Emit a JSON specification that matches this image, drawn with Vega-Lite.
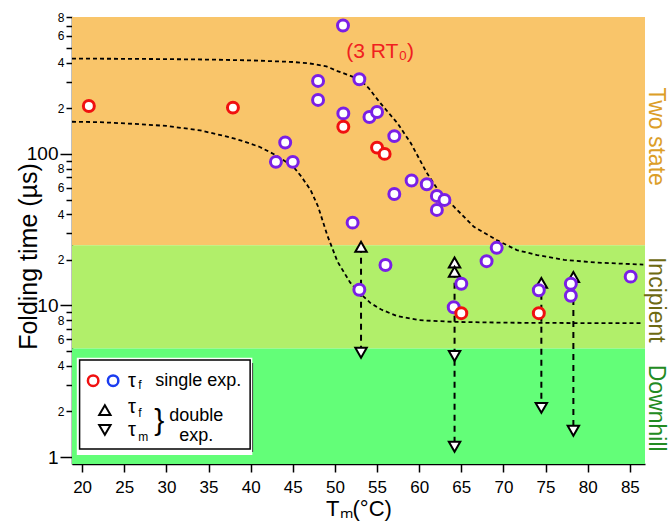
{
  "$schema": "https://vega.github.io/schema/vega-lite/v6.json",
  "width": 573,
  "height": 447,
  "autosize": {"type": "none"},
  "padding": {"left": 72, "top": 17, "right": 25, "bottom": 57},
  "background": "white",
  "config": {
    "view": {"stroke": null},
    "font": "Liberation Sans",
    "axis": {"grid": false, "domainColor": "black", "tickColor": "black", "labelColor": "black", "titleColor": "black", "labelFont": "Liberation Sans", "titleFont": "Liberation Sans", "titleFontWeight": "normal", "domainWidth": 1.5, "tickWidth": 1.5, "labelOverlap": false, "labelFlush": false}
  },
  "datasets": {
    "bands": [
      {"band": "Two state", "T": 18.8, "T2": 86.8, "v": 25, "v2": 800},
      {"band": "Incipient", "T": 18.8, "T2": 86.8, "v": 5.2, "v2": 25},
      {"band": "Downhill", "T": 18.8, "T2": 86.8, "v": 0.9, "v2": 5.2}
    ],
    "curves": [
      {"curve": "a", "T": 18.8, "v": 425}, {"curve": "a", "T": 25, "v": 424}, {"curve": "a", "T": 30, "v": 422}, {"curve": "a", "T": 35, "v": 419}, {"curve": "a", "T": 40, "v": 414}, {"curve": "a", "T": 45, "v": 404}, {"curve": "a", "T": 47, "v": 395}, {"curve": "a", "T": 49, "v": 378}, {"curve": "a", "T": 50.3, "v": 352}, {"curve": "a", "T": 52, "v": 325}, {"curve": "a", "T": 53, "v": 308}, {"curve": "a", "T": 54, "v": 272}, {"curve": "a", "T": 55.4, "v": 216}, {"curve": "a", "T": 57.4, "v": 160}, {"curve": "a", "T": 59, "v": 118}, {"curve": "a", "T": 60.9, "v": 75}, {"curve": "a", "T": 62.5, "v": 55}, {"curve": "a", "T": 64.1, "v": 45}, {"curve": "a", "T": 66.5, "v": 33}, {"curve": "a", "T": 69.2, "v": 27}, {"curve": "a", "T": 71.6, "v": 23.2}, {"curve": "a", "T": 74, "v": 21.5}, {"curve": "a", "T": 77.2, "v": 20}, {"curve": "a", "T": 81, "v": 19.2}, {"curve": "a", "T": 86.6, "v": 18.6},
      {"curve": "b", "T": 18.8, "v": 163}, {"curve": "b", "T": 22, "v": 162}, {"curve": "b", "T": 26, "v": 158}, {"curve": "b", "T": 30, "v": 153}, {"curve": "b", "T": 34, "v": 143}, {"curve": "b", "T": 37.2, "v": 130}, {"curve": "b", "T": 39, "v": 122}, {"curve": "b", "T": 41.1, "v": 111}, {"curve": "b", "T": 43, "v": 98}, {"curve": "b", "T": 45.1, "v": 82}, {"curve": "b", "T": 46, "v": 71}, {"curve": "b", "T": 47.1, "v": 58}, {"curve": "b", "T": 48, "v": 45}, {"curve": "b", "T": 49.1, "v": 29}, {"curve": "b", "T": 50.3, "v": 19.5}, {"curve": "b", "T": 51.8, "v": 14.2}, {"curve": "b", "T": 53, "v": 12}, {"curve": "b", "T": 54.2, "v": 10.4}, {"curve": "b", "T": 55.5, "v": 9.4}, {"curve": "b", "T": 57.4, "v": 8.5}, {"curve": "b", "T": 60, "v": 8.0}, {"curve": "b", "T": 64, "v": 7.8}, {"curve": "b", "T": 70, "v": 7.7}, {"curve": "b", "T": 80, "v": 7.65}, {"curve": "b", "T": 86.6, "v": 7.65}
    ],
    "arrows": [
      {"T": 53.1, "v": 24.4, "v2": 4.88},
      {"T": 64.2, "v": 16.7, "v2": 1.17},
      {"T": 74.5, "v": 14.1, "v2": 2.11},
      {"T": 78.3, "v": 15.4, "v2": 1.49}
    ],
    "triUp": [
      {"T": 53.1, "v": 24.4}, {"T": 64.2, "v": 19.2}, {"T": 64.2, "v": 16.7}, {"T": 74.5, "v": 14.1}, {"T": 78.3, "v": 15.4}
    ],
    "triDown": [
      {"T": 53.1, "v": 4.88}, {"T": 64.2, "v": 4.64}, {"T": 64.2, "v": 1.17}, {"T": 74.5, "v": 2.11}, {"T": 78.3, "v": 1.49}
    ],
    "red": [
      {"T": 20.8, "v": 207}, {"T": 37.9, "v": 202}, {"T": 51.0, "v": 151}, {"T": 55.0, "v": 110}, {"T": 55.9, "v": 100}, {"T": 65.0, "v": 8.9}, {"T": 74.2, "v": 8.9}
    ],
    "purple": [
      {"T": 50.96, "v": 703}, {"T": 52.9, "v": 311}, {"T": 48.0, "v": 303}, {"T": 48.0, "v": 227}, {"T": 51.0, "v": 185}, {"T": 54.1, "v": 175}, {"T": 55.0, "v": 189}, {"T": 57.05, "v": 131}, {"T": 44.1, "v": 119}, {"T": 43.0, "v": 88.6}, {"T": 45.0, "v": 88.6}, {"T": 59.1, "v": 66.7}, {"T": 60.9, "v": 63.1}, {"T": 62.1, "v": 52.8}, {"T": 63.0, "v": 49.7}, {"T": 62.1, "v": 42.7}, {"T": 57.05, "v": 54.4}, {"T": 52.1, "v": 35.2}, {"T": 56.0, "v": 18.5}, {"T": 52.9, "v": 12.7}, {"T": 65.0, "v": 13.9}, {"T": 64.1, "v": 9.73}, {"T": 68.0, "v": 19.6}, {"T": 69.2, "v": 24.0}, {"T": 74.2, "v": 12.6}, {"T": 78.0, "v": 13.9}, {"T": 78.0, "v": 11.6}, {"T": 85.1, "v": 15.5}
    ],
    "sideLabels": [
      {"T": 88.1, "v": 130, "label": "Two state"},
      {"T": 88.1, "v": 10.9, "label": "Incipient"},
      {"T": 88.1, "v": 2.1, "label": "Downhill"}
    ]
  },
  "encoding": {
    "x": {
      "field": "T", "type": "quantitative",
      "scale": {"type": "linear", "domain": [18.8, 86.8], "nice": false, "zero": false},
      "axis": {"values": [20, 25, 30, 35, 40, 45, 50, 55, 60, 65, 70, 75, 80, 85], "tickSize": 8, "labelFontSize": 17, "labelPadding": 7, "title": "Tₘ(°C)", "titleFontSize": 22, "titleY": 34, "titleBaseline": "top"}
    },
    "y": {
      "field": "v", "type": "quantitative",
      "scale": {"type": "log", "domain": [0.9, 800], "nice": false},
      "axis": {
        "values": [1, 2, 3, 4, 5, 6, 7, 8, 9, 10, 20, 30, 40, 50, 60, 70, 80, 90, 100, 200, 300, 400, 500, 600, 700, 800],
        "labelExpr": "datum.value == 1 ? '1' : datum.value == 10 ? '10' : datum.value == 100 ? '100' : indexof([2,4,6,8,20,40,60,80,200,400,600,800], datum.value) >= 0 ? (datum.value < 10 ? format(datum.value, 'd') : datum.value < 100 ? format(datum.value / 10, 'd') : format(datum.value / 100, 'd')) : ''",
        "labelFontSize": {"condition": {"test": "datum.value == 1 || datum.value == 10 || datum.value == 100", "value": 19}, "value": 12},
        "tickSize": {"condition": {"test": "datum.value == 1 || datum.value == 10 || datum.value == 100", "value": 12}, "value": 6},
        "labelPadding": 2,
        "title": "Folding time (µs)", "titleFontSize": 25, "titleX": -31, "titleY": 239, "titleAlign": "center", "titleBaseline": "bottom"
      }
    }
  },
  "layer": [
    {
      "data": {"name": "bands"},
      "mark": {"type": "rect"},
      "encoding": {
        "x2": {"field": "T2"},
        "y2": {"field": "v2"},
        "color": {"field": "band", "type": "nominal", "scale": {"domain": ["Two state", "Incipient", "Downhill"], "range": ["#F9C56A", "#B1EF6A", "#63FE78"]}, "legend": null}
      }
    },
    {
      "data": {"values": [{"T": 50.3}]},
      "mark": {"type": "rule", "color": "#F01010", "strokeDash": [2, 2], "strokeWidth": 1.6},
      "encoding": {"y": {"datum": 800}, "y2": {"datum": 0.9}}
    },
    {
      "data": {"name": "curves"},
      "mark": {"type": "line", "color": "black", "strokeDash": [4, 3], "strokeWidth": 1.8},
      "encoding": {"detail": {"field": "curve"}}
    },
    {
      "data": {"name": "arrows"},
      "mark": {"type": "rule", "color": "black", "strokeDash": [6, 5], "strokeWidth": 2},
      "encoding": {"y2": {"field": "v2"}}
    },
    {
      "data": {"name": "triDown"},
      "mark": {"type": "point", "shape": "triangle-down", "filled": true, "fill": "white", "stroke": "black", "strokeWidth": 2, "size": 130, "opacity": 1}
    },
    {
      "data": {"name": "triUp"},
      "mark": {"type": "point", "shape": "triangle-up", "filled": true, "fill": "white", "stroke": "black", "strokeWidth": 2, "size": 130, "opacity": 1}
    },
    {
      "data": {"name": "purple"},
      "mark": {"type": "point", "shape": "circle", "filled": true, "fill": "white", "stroke": "#7A1FE6", "strokeWidth": 3, "size": 120, "opacity": 1}
    },
    {
      "data": {"name": "red"},
      "mark": {"type": "point", "shape": "circle", "filled": true, "fill": "white", "stroke": "#F01010", "strokeWidth": 3, "size": 120, "opacity": 1}
    },
    {
      "data": {"values": [{"T": 51.35, "v": 471, "label": "(3 RT₀)"}]},
      "mark": {"type": "text", "align": "left", "baseline": "middle", "color": "#F02020", "fontSize": 21},
      "encoding": {"text": {"field": "label"}}
    },
    {
      "data": {"name": "sideLabels"},
      "mark": {"type": "text", "align": "center", "baseline": "middle", "angle": 90, "fontSize": 23},
      "encoding": {
        "text": {"field": "label"},
        "color": {"field": "label", "type": "nominal", "scale": {"domain": ["Two state", "Incipient", "Downhill"], "range": ["#DC9E28", "#6E6A12", "#238B22"]}, "legend": null}
      }
    },
    {
      "data": {"values": [{"T": 20.06, "T2": 40.29, "v": 4.17, "v2": 1.08}]},
      "mark": {"type": "rect", "color": "black"},
      "encoding": {"x2": {"field": "T2"}, "y2": {"field": "v2"}}
    },
    {
      "data": {"values": [{"T": 19.37, "T2": 40.2, "v": 4.52, "v2": 1.03}]},
      "mark": {"type": "rect", "color": "white"},
      "encoding": {"x2": {"field": "T2"}, "y2": {"field": "v2"}}
    },
    {
      "data": {"values": [{"T": 19.7, "T2": 39.94, "v": 4.37, "v2": 1.13}]},
      "mark": {"type": "rect", "fill": "white", "stroke": "black", "strokeWidth": 1.5},
      "encoding": {"x2": {"field": "T2"}, "y2": {"field": "v2"}}
    },
    {
      "data": {"values": [{"T": 21.31, "v": 3.19}]},
      "mark": {"type": "point", "shape": "circle", "filled": true, "fill": "white", "stroke": "#F01010", "strokeWidth": 2.5, "size": 110, "opacity": 1}
    },
    {
      "data": {"values": [{"T": 23.68, "v": 3.19}]},
      "mark": {"type": "point", "shape": "circle", "filled": true, "fill": "white", "stroke": "#1A3CF0", "strokeWidth": 2.5, "size": 110, "opacity": 1}
    },
    {
      "data": {"values": [{"T": 22.7, "v": 2.04}]},
      "mark": {"type": "point", "shape": "triangle-up", "filled": true, "fill": "white", "stroke": "black", "strokeWidth": 2, "size": 130, "opacity": 1}
    },
    {
      "data": {"values": [{"T": 22.7, "v": 1.51}]},
      "mark": {"type": "point", "shape": "triangle-down", "filled": true, "fill": "white", "stroke": "black", "strokeWidth": 2, "size": 130, "opacity": 1}
    },
    {
      "data": {"values": [{"T": 25.46, "v": 3.19, "label": "τ"}, {"T": 25.46, "v": 2.14, "label": "τ"}, {"T": 25.46, "v": 1.51, "label": "τ"}]},
      "mark": {"type": "text", "align": "left", "baseline": "middle", "color": "black", "fontSize": 20},
      "encoding": {"text": {"field": "label"}}
    },
    {
      "data": {"values": [{"T": 26.65, "v": 2.99, "label": "f"}, {"T": 26.65, "v": 1.95, "label": "f"}, {"T": 26.65, "v": 1.36, "label": "m"}]},
      "mark": {"type": "text", "align": "left", "baseline": "middle", "color": "black", "fontSize": 12},
      "encoding": {"text": {"field": "label"}}
    },
    {
      "data": {"values": [{"T": 28.67, "v": 3.19, "label": "single exp."}]},
      "mark": {"type": "text", "align": "left", "baseline": "middle", "color": "black", "fontSize": 18},
      "encoding": {"text": {"field": "label"}}
    },
    {
      "data": {"values": [{"T": 33.54, "v": 1.87, "label": "double"}, {"T": 33.54, "v": 1.38, "label": "exp."}]},
      "mark": {"type": "text", "align": "center", "baseline": "middle", "color": "black", "fontSize": 18},
      "encoding": {"text": {"field": "label"}}
    },
    {
      "data": {"values": [{"T": 29.15, "v": 1.72, "label": "}"}]},
      "mark": {"type": "text", "align": "center", "baseline": "middle", "color": "black", "fontSize": 30},
      "encoding": {"text": {"field": "label"}}
    }
  ],
  "resolve": {"scale": {"color": "independent"}}
}
